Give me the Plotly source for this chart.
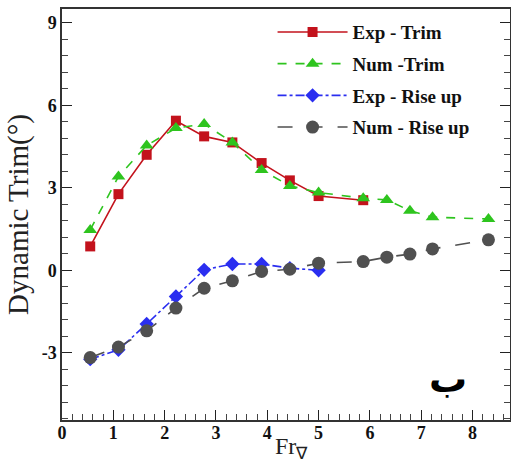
import plotly.graph_objects as go

fr_exp_trim = [0.55, 1.10, 1.65, 2.22, 2.77, 3.32, 3.89, 4.44, 5.00, 5.87]
exp_trim = [0.87, 2.77, 4.20, 5.44, 4.87, 4.65, 3.90, 3.27, 2.70, 2.55]

fr_num = [0.55, 1.10, 1.65, 2.22, 2.77, 3.32, 3.89, 4.44, 5.00, 5.87, 6.33, 6.78, 7.22, 8.31]
num_trim = [1.47, 3.41, 4.54, 5.17, 5.32, 4.65, 3.65, 3.07, 2.83, 2.62, 2.56, 2.17, 1.93, 1.87]

fr_exp_rise = [0.55, 1.10, 1.65, 2.22, 2.77, 3.32, 3.89, 4.44, 5.00]
exp_rise = [-3.23, -2.89, -1.95, -0.95, 0.02, 0.23, 0.23, 0.08, 0.00]

num_rise = [-3.17, -2.79, -2.20, -1.37, -0.65, -0.38, -0.04, 0.04, 0.26, 0.32, 0.48, 0.59, 0.78, 1.11]

x_ticks = [0, 1, 2, 3, 4, 5, 6, 7, 8]
y_ticks = [-3, 0, 3, 6, 9]

serif = "Liberation Serif, Times New Roman, serif"

fig = go.Figure()
fig.add_trace(go.Scatter(x=fr_exp_trim, y=exp_trim, name="<b>Exp - Trim</b>", mode="lines+markers",
                         legendgroup="a",
                         line=dict(color="#c3121c", width=1.6),
                         marker=dict(symbol="square", size=10, color="#c3121c")))
fig.add_trace(go.Scatter(x=fr_num, y=num_trim, name="<b>Num -Trim</b>", mode="lines+markers",
                         legendgroup="b",
                         line=dict(color="#2ec41e", width=1.6, dash="dash"),
                         marker=dict(symbol="triangle-up", size=12, color="#2ec41e")))
fig.add_trace(go.Scatter(x=fr_exp_rise, y=exp_rise, name="<b>Exp - Rise up</b>", mode="lines+markers",
                         legendgroup="c",
                         line=dict(color="#2a2ef0", width=1.6, dash="dashdot"),
                         marker=dict(symbol="diamond", size=11, color="#2a2ef0")))
fig.add_trace(go.Scatter(x=fr_num, y=num_rise, name="<b>Num - Rise up</b>", mode="lines+markers",
                         legendgroup="d",
                         line=dict(color="#505050", width=1.6, dash="longdash"),
                         marker=dict(symbol="circle", size=13, color="#505050")))

fig.add_annotation(x=7.52, y=-3.95, xref="x", yref="y", text="ب", showarrow=False,
                   font=dict(family="DejaVu Sans", size=38, color="black", weight="bold"))

# x-axis title as a paper-positioned text
fig.add_annotation(x=0.513, y=-0.068, xref="paper", yref="paper", text="Fr<sub>∇</sub>",
                   showarrow=False, xanchor="center", yanchor="middle",
                   font=dict(family=serif, size=24, color="#222"))

fig.update_layout(
    width=511, height=464,
    margin=dict(l=62, r=1, t=9, b=44, autoexpand=False),
    paper_bgcolor="white", plot_bgcolor="white",
    showlegend=True,
    legend=dict(x=0.47, y=0.99, xanchor="left", yanchor="top",
                font=dict(family=serif, size=19, color="#111"),
                bgcolor="rgba(0,0,0,0)", itemwidth=70, tracegroupgap=4),
    xaxis=dict(range=[0, 8.73], tickmode="array", tickvals=x_ticks,
               ticktext=["<b>%d</b>" % v for v in x_ticks], automargin=False,
               ticks="inside", ticklen=10, tickcolor="#222", ticklabelstandoff=-4,
               tickwidth=1, showline=True, linecolor="#333", linewidth=1.5, mirror=True,
               showgrid=False, zeroline=False,
               tickfont=dict(family=serif, size=18, color="#111")),
    yaxis=dict(range=[-5.44, 9.5], tickmode="array", tickvals=y_ticks,
               ticktext=["<b>%d</b>" % v for v in y_ticks], automargin=False,
               ticks="inside", ticklen=10, tickcolor="#222",
               tickwidth=1, showline=True, linecolor="#333", linewidth=1.5, mirror="allticks",
               showgrid=False, zeroline=False,
               tickfont=dict(family=serif, size=18, color="#111"),
               minor=dict(tick0=0, dtick=0.6, ticks="inside", ticklen=6, tickcolor="#444"),
               title=dict(text="Dynamic Trim(°)", font=dict(family=serif, size=29, color="#222"), standoff=5)),
)
fig.update_xaxes(minor=dict(tick0=0, dtick=0.2, ticks="inside", ticklen=6, tickcolor="#444"))

fig.write_html("out.html")
